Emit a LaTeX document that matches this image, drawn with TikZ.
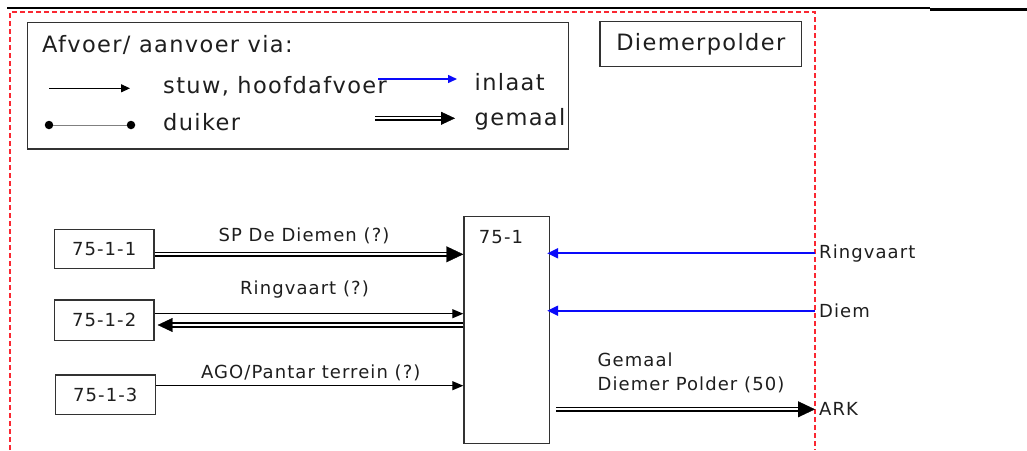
\documentclass[tikz,border=0pt]{standalone}
\usepackage{fontspec}
\setmainfont[LetterSpace=6]{DejaVu Sans}
\usetikzlibrary{arrows.meta}
\definecolor{redline}{RGB}{250,40,50}
\definecolor{blueline}{RGB}{10,10,250}
\definecolor{boxline}{RGB}{50,50,50}
\definecolor{txt}{RGB}{30,30,30}
\tikzset{
  box/.style={draw=boxline, line width=1.2pt, inner sep=0pt, text=txt},
  lbl/.style={inner sep=0pt, text=txt, font=\fontsize{18}{22}\selectfont},
  leg/.style={inner sep=0pt, text=txt, font=\fontsize{22.5}{26}\selectfont},
  sarrow/.style={draw=black, line width=1.1pt, -{Triangle[length=11pt,width=9pt]}},
  barrow/.style={draw=blueline, line width=2pt, -{Triangle[length=11pt,width=10pt]}},
  dblline/.style={draw=black, double=white, double distance=2.3pt, line width=1.4pt},
  dbltip/.style={draw=white, line width=0.4pt, -{Triangle[color=black,length=17pt,width=16pt]}},
  dot/.style={circle, fill=black, inner sep=0pt, minimum size=8.5pt},
}
\begin{document}
\begin{tikzpicture}[x=1pt,y=-1pt]
\useasboundingbox (0,0) rectangle (1027,450);
% top rules
\draw[line width=1.5pt] (7,8) -- (930,8);
\draw[line width=2.2pt] (930,9.5) -- (1027,9.5);
% red dashed border
\draw[redline, line width=1.6pt, dash pattern=on 5pt off 3pt] (10,450) -- (10,12) -- (815,12) -- (815,450);
% legend
\node[box, minimum width=541pt, minimum height=126.6pt, anchor=north west] (legend) at (26.8,21.7) {};
\node[leg, anchor=base west] (legtitle) at (42,52.3) {Afvoer/ aanvoer via:};
\coordinate (la1) at (49,88.3); \coordinate (la2) at (130,88.3);
\draw[sarrow, -{Triangle[length=9pt,width=8pt]}] (la1) -- (la2);
\node[leg, anchor=base west] (legstuw) at (163,93.3) {stuw, hoofdafvoer};
\coordinate (lb1) at (378,79); \coordinate (lb2) at (457,79);
\draw[barrow, line width=1.5pt, -{Triangle[length=9pt,width=8pt]}] (lb1) -- (lb2);
\node[leg, anchor=base west] (leginlaat) at (474.5,90) {inlaat};
\node[dot] (ld1) at (49,125) {}; \node[dot] (ld2) at (131,125) {};
\draw[gray, line width=1pt] (ld1) -- (ld2);
\node[leg, anchor=base west] (legduiker) at (163,130) {duiker};
\coordinate (lg1) at (375,118.3); \coordinate (lg2) at (455,118.3);
\draw[dblline, shorten >=12pt] (lg1) -- (lg2);
\draw[dbltip, -{Triangle[color=black,length=14pt,width=13pt]}] (lg1) -- (lg2);
\node[leg, anchor=base west] (leggemaal) at (474.5,125) {gemaal};
% Diemerpolder
\node[box, leg, draw=boxline, minimum width=201.7pt, minimum height=45pt] (dp) at (700.8,44.2) {Diemerpolder};
% boxes
\node[box, lbl, draw=boxline, minimum width=99.7pt, minimum height=39pt] (b1) at (104.2,248.8) {75-1-1};
\node[box, lbl, draw=boxline, minimum width=99.7pt, minimum height=40.7pt] (b2) at (104.2,320.3) {75-1-2};
\node[box, lbl, draw=boxline, minimum width=100pt, minimum height=39.3pt] (b3) at (105.3,394.7) {75-1-3};
\node[box, minimum width=85.7pt, minimum height=227pt, anchor=north west] (main) at (463.3,215.7) {};
\node[lbl] (mainlbl) at (501,237.3) {75-1};
% border coordinates
\coordinate (pRing) at (815,253.3);
\coordinate (pDiem) at (815,310.7);
\coordinate (pArk) at (815,409.3);
% left connectors
\draw[dblline, shorten >=15pt] (b1.east |- 0,254.3) -- (main.west |- 0,254.3);
\draw[dbltip] (b1.east |- 0,254.3) -- (main.west |- 0,254.3);
\node[lbl] (l1) at (304,236) {SP De Diemen (?)};
\node[lbl] (l2) at (304.5,289.3) {Ringvaart (?)};
\draw[sarrow] (b2.east |- 0,313.7) -- (main.west |- 0,313.7);
\draw[dblline, shorten >=14pt] (main.west |- 0,325) -- (b2.east |- 0,325);
\draw[dbltip, -{Triangle[color=black,length=15pt,width=14pt]}] (main.west |- 0,325) -- ([xshift=3pt]b2.east |- 0,325);
\node[lbl] (l3) at (310.8,372.7) {AGO/Pantar terrein (?)};
\draw[sarrow] (b3.east |- 0,385.7) -- (main.west |- 0,385.7);
% right connectors
\draw[barrow] (pRing) -- ([xshift=-3pt]main.east |- pRing);
\draw[barrow] (pDiem) -- ([xshift=-3pt]main.east |- pDiem);
\node[lbl, anchor=west] (tRing) at ([xshift=4pt]pRing) {Ringvaart};
\node[lbl, anchor=west] (tDiem) at ([xshift=4pt]pDiem) {Diem};
\node[lbl, anchor=west] (tArk) at ([xshift=4pt]pArk) {ARK};
\draw[dblline, shorten >=15pt] ([xshift=6pt]main.east |- pArk) -- (pArk);
\draw[dbltip] ([xshift=6pt]main.east |- pArk) -- (pArk);
\node[lbl, align=left, anchor=west, font=\fontsize{18}{24}\selectfont] (lgem) at (597.5,373) {Gemaal\\Diemer Polder (50)};
\end{tikzpicture}
\end{document}
